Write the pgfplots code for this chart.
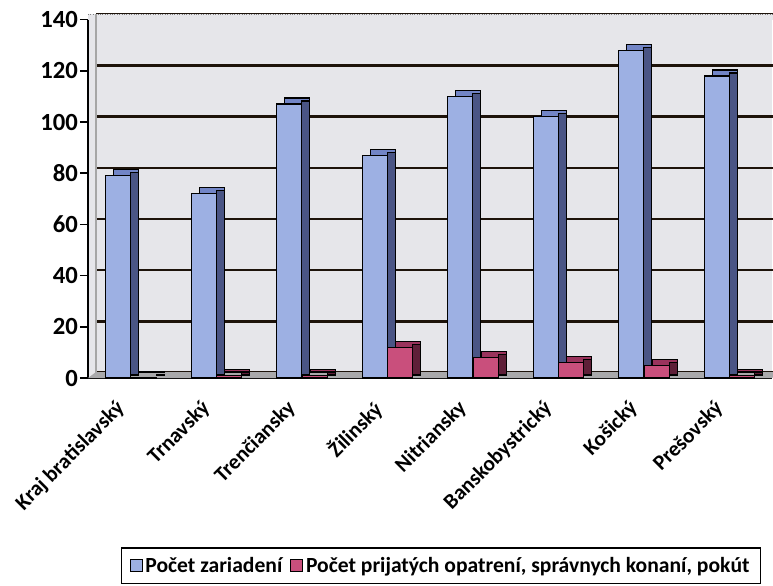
\documentclass[border=0pt]{standalone}
\usepackage{pgfplots}
\pgfplotsset{compat=1.18}
\usepackage{fontspec}
\setmainfont{Carlito}
\definecolor{wall}{HTML}{E6E6EA}
\definecolor{floorc}{HTML}{A9A9AB}
\definecolor{bluef}{HTML}{9DB0E3}
\definecolor{bluet}{HTML}{7285C6}
\definecolor{blues}{HTML}{4A5585}
\definecolor{redf}{HTML}{C94F7C}
\definecolor{redt}{HTML}{9A335C}
\definecolor{reds}{HTML}{5E1F38}
\pgfplotstableread{
x zar opa
0 79 0.3
1 72 1
2 107 1
3 87 12
4 110 8
5 102 6
6 128 5
7 118 1
}\data
\begin{document}
\begin{tikzpicture}
\begin{axis}[
  scale only axis,
  x=64.125pt, y=1.92pt,
  xmin=-0.5, xmax=7.5, ymin=0, ymax=140,
  clip=false,
  ybar, bar width=18.75pt,
  axis background/.style={fill=wall},
  axis x line*=bottom, axis y line*=left,
  axis line style={black, line width=1.3pt, -},
  tick align=outside,
  major tick length=6pt,
  tick style={black, line width=1.2pt},
  ytick={0,20,...,140},
  ymajorgrids,
  major grid style={black!85!brown, line width=1.8pt, xshift=6pt, yshift=4pt},
  xtick={0,...,7},
  xticklabels={Kraj bratislavský, Trnavský, Trenčiansky, Žilinský, Nitriansky, Banskobystrický, Košický, Prešovský},
  x tick style={draw=none},
  extra x ticks={-0.5,0.5,...,7.5},
  extra x tick labels={},
  extra x tick style={grid=none, major tick length=6pt, tick style={black, line width=1.2pt, draw=black}},
  font=\bfseries\fontsize{18}{21}\selectfont,
  /pgf/number format/assume math mode=true,
  yticklabel style={font=\bfseries\fontsize{18.5}{21}\selectfont, xshift=2pt},
  xticklabel style={font=\bfseries\fontsize{16}{19}\selectfont, xshift=-12pt, yshift=-8pt, rotate=45, anchor=north east, inner sep=1pt},
  legend style={at={(0.516,-0.472)}, anchor=north, draw=black, line width=1pt,
     legend columns=2, font=\bfseries\fontsize{16.2}{19}\selectfont,
     /tikz/every even column/.append style={column sep=4pt},
     inner xsep=6pt, inner ysep=5pt},
  legend image code/.code={\draw[#1, draw=black, line width=0.8pt] (0pt,-4.5pt) rectangle (9pt,4.5pt);},
]
% top strip of back wall and floor
\fill[wall] (rel axis cs:0,1) rectangle ([xshift=6pt,yshift=4pt]rel axis cs:1,1);
\draw[gray, densely dotted, line width=0.8pt] ([yshift=4pt]rel axis cs:0,1) -- ([xshift=6pt,yshift=4pt]rel axis cs:1,1);
\draw[gray!70, line width=0.8pt] ([xshift=6pt]rel axis cs:0,0) -- ([xshift=6pt,yshift=4pt]rel axis cs:0,1);
\fill[floorc] (rel axis cs:0,0) -- ([xshift=6pt,yshift=4.5pt]rel axis cs:0,0) -- ([xshift=6pt,yshift=4.5pt]rel axis cs:1,0) -- (rel axis cs:1,0) -- cycle;
% top faces (depth)
\addplot[forget plot, fill=bluet, draw=black, line width=0.9pt, bar shift=-9.375pt, xshift=6pt, yshift=4.5pt] table[x=x,y=zar]{\data};
\addplot[forget plot, fill=redt, draw=black, line width=0.9pt, bar shift=9.75pt, xshift=6pt, yshift=4.5pt] table[x=x,y=opa]{\data};
% side faces
\addplot[forget plot, fill=blues, draw=black, line width=0.9pt, bar width=6pt, bar shift=3pt, yshift=2.25pt] table[x=x,y=zar]{\data};
\addplot[forget plot, fill=reds, draw=black, line width=0.9pt, bar width=6pt, bar shift=22.125pt, yshift=2.25pt] table[x=x,y=opa]{\data};
% front faces
\addplot[fill=bluef, draw=black, line width=0.9pt, bar shift=-9.375pt] table[x=x,y=zar]{\data};
\addplot[fill=redf, draw=black, line width=0.9pt, bar shift=9.75pt] table[x=x,y=opa]{\data};
\legend{Počet zariadení, {Počet prijatých opatrení, správnych konaní, pokút}}
\end{axis}
\pgfresetboundingbox
\path (-66pt,-155.25pt) rectangle (513.75pt,283.5pt);
\end{tikzpicture}
\end{document}
